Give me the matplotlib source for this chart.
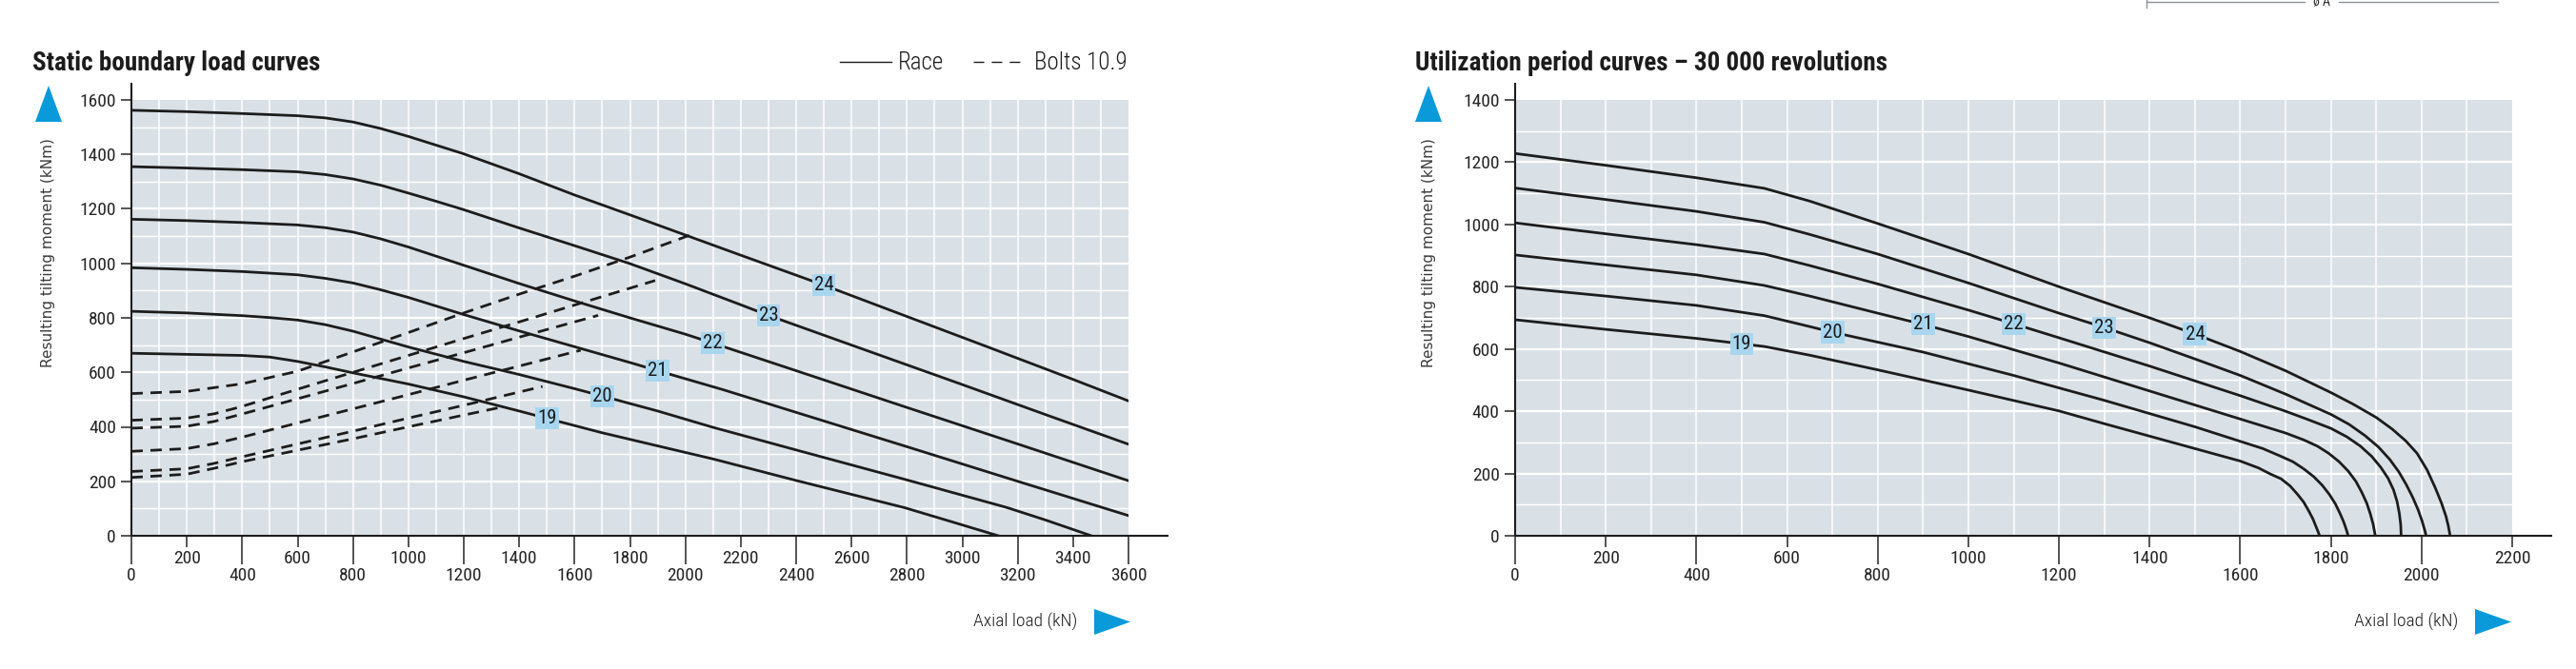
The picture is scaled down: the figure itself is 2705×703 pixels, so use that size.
import numpy as np
import matplotlib
matplotlib.use('Agg')
import matplotlib.pyplot as plt
from matplotlib import font_manager as fm
from matplotlib.lines import Line2D
from matplotlib.patches import Polygon
from matplotlib.ticker import NullLocator, FixedLocator, FuncFormatter

# ---------------- DATA ----------------
# Static boundary load curves: Race (solid), curve ids 19..24
static_ids = ['19', '20', '21', '22', '23', '24']
static_label_x = [1500, 1700, 1900, 2100, 2300, 2500]

r19_x = [0, 200, 400, 500, 600, 700, 800, 1000, 1200, 1400, 1500, 1700, 1933, 2100, 2400, 2792, 2950, 3130]
r19_y = [670, 666, 662, 656, 640, 620, 598, 557, 510, 458, 431, 378, 322, 282, 203, 103, 55, 0]
r20_x = [0, 200, 400, 500, 600, 700, 800, 900, 1000, 1200, 1400, 1600, 1700, 1900, 2100, 2400, 2800, 3160, 3300, 3466]
r20_y = [824, 818, 808, 801, 792, 775, 751, 722, 693, 640, 592, 540, 513, 458, 398, 315, 205, 104, 58, 0]
r21_x = [0, 200, 400, 600, 700, 800, 900, 1000, 1200, 1400, 1600, 1800, 1900, 2137, 2400, 2800, 3200, 3600]
r21_y = [984, 978, 970, 958, 945, 928, 903, 875, 812, 752, 694, 636, 606, 536, 453, 327, 200, 74]
r22_x = [0, 200, 400, 600, 700, 800, 900, 1000, 1200, 1400, 1600, 1800, 2000, 2100, 2400, 2800, 3200, 3600]
r22_y = [1162, 1157, 1150, 1141, 1131, 1115, 1090, 1060, 993, 926, 862, 800, 740, 707, 606, 471, 337, 202]
r23_x = [0, 200, 400, 600, 700, 800, 900, 1000, 1100, 1200, 1400, 1600, 1800, 2000, 2200, 2300, 2600, 3000, 3300, 3600]
r23_y = [1355, 1350, 1344, 1336, 1326, 1310, 1287, 1258, 1228, 1197, 1130, 1065, 999, 925, 848, 809, 700, 555, 445, 336]
r24_x = [0, 200, 400, 600, 700, 800, 900, 1000, 1200, 1400, 1600, 1800, 2000, 2200, 2500, 2800, 3100, 3400, 3600]
r24_y = [1562, 1557, 1550, 1542, 1534, 1519, 1495, 1466, 1402, 1329, 1251, 1178, 1104, 1030, 920, 805, 690, 574, 495]

# Bolts 10.9 (dashed)
b1_x = [0, 200, 400, 600, 800, 1000, 1200, 1400, 1600, 1800, 2023]
b1_y = [522, 530, 558, 604, 675, 746, 818, 887, 953, 1023, 1106]
b2_x = [0, 200, 300, 400, 600, 800, 1000, 1200, 1400, 1600, 1891]
b2_y = [424, 432, 448, 475, 538, 600, 662, 724, 785, 847, 937]
b3_x = [0, 200, 300, 400, 600, 800, 1000, 1200, 1400, 1685]
b3_y = [395, 402, 420, 447, 503, 559, 616, 672, 729, 809]
b4_x = [0, 200, 300, 400, 600, 800, 1000, 1200, 1400, 1622]
b4_y = [310, 320, 338, 362, 414, 466, 518, 571, 623, 681]
b5_x = [0, 200, 300, 400, 600, 800, 1000, 1200, 1484]
b5_y = [236, 246, 266, 290, 337, 384, 432, 479, 548]
b6_x = [0, 200, 300, 400, 600, 800, 1000, 1200, 1335]
b6_y = [214, 226, 248, 272, 314, 356, 400, 443, 472]

# Utilization period curves - 30 000 revolutions
util_ids = ['19', '20', '21', '22', '23', '24']
util_label_x = [500, 700, 900, 1100, 1300, 1500]

u19_x = [0, 200, 400, 550, 650, 800, 1000, 1200, 1300, 1400, 1500, 1600, 1640, 1667, 1690,
         1710, 1727, 1740, 1751, 1760, 1767, 1772, 1775]
u19_y = [694, 663, 634, 608, 580, 533, 468, 401, 360, 320, 280, 240, 218, 198, 183,
         160, 132, 108, 80, 55, 30, 12, 0]
u20_x = [0, 200, 400, 550, 650, 700, 900, 1100, 1300, 1500, 1650, 1690, 1716, 1740, 1762,
         1781, 1797, 1810, 1820, 1828, 1834, 1838]
u20_y = [798, 770, 740, 707, 672, 654, 590, 515, 435, 350, 280, 255, 238, 215, 190,
         162, 132, 102, 72, 45, 20, 0]
u21_x = [0, 200, 400, 550, 650, 800, 900, 1000, 1200, 1400, 1600, 1700, 1740, 1770, 1795,
         1818, 1838, 1855, 1868, 1879, 1887, 1893, 1896, 1898]
u21_y = [902, 870, 838, 804, 770, 715, 679, 640, 555, 465, 375, 330, 308, 288, 265,
         238, 208, 175, 140, 105, 70, 38, 15, 0]
u22_x = [0, 200, 400, 550, 650, 800, 1000, 1100, 1200, 1400, 1600, 1700, 1750, 1800, 1835,
         1865, 1890, 1910, 1926, 1938, 1946, 1951, 1954, 1955]
u22_y = [1005, 970, 935, 905, 868, 809, 725, 681, 636, 545, 450, 400, 373, 345, 318,
         288, 255, 220, 185, 148, 110, 72, 36, 0]
u23_x = [0, 200, 400, 550, 650, 800, 1000, 1200, 1300, 1400, 1500, 1600, 1700, 1800, 1840,
         1875, 1905, 1930, 1950, 1966, 1980, 1992, 2001, 2007, 2010]
u23_y = [1117, 1080, 1042, 1007, 968, 905, 812, 715, 669, 620, 568, 515, 455, 390, 358,
         322, 285, 245, 205, 165, 125, 85, 48, 18, 0]
u24_x = [0, 200, 400, 550, 650, 800, 1000, 1200, 1400, 1500, 1600, 1700, 1800, 1850, 1900,
         1935, 1965, 1990, 2012, 2030, 2044, 2054, 2059, 2063]
u24_y = [1228, 1190, 1150, 1116, 1075, 1003, 905, 800, 700, 648, 592, 530, 460, 422, 380,
         343, 305, 265, 212, 155, 105, 62, 32, 0]

# ---------------- FONTS ----------------
names = {f.name for f in fm.fontManager.ttflist}
COND = None
for c in ['Roboto Condensed', 'Barlow Condensed', 'Liberation Sans Narrow',
          'Archivo Narrow', 'DejaVu Sans Condensed']:
    if c in names:
        COND = c
        break
if COND is None:
    COND = 'Roboto'
plt.rcParams['font.family'] = [COND, 'DejaVu Sans']

# ---------------- FIGURE ----------------
W, H = 2705, 703
fig = plt.figure(figsize=(W / 100, H / 100), dpi=100)
fig.patch.set_facecolor('white')


def fx(px):
    return px / W


def fy(py):
    return 1 - py / H


INK = '#1c1c1c'
TICK = '#262626'
BG = '#dae1e6'
BOX = '#a9d6ef'
BLUE = '#0a9ad9'
LIGHT = 'light'

ax1 = fig.add_axes([fx(138), fy(563), 1047 / W, 458 / H])
ax2 = fig.add_axes([fx(1591), fy(563), 1047 / W, 458 / H])


def style_axes(ax, xmax, ymax):
    ax.set_xlim(0, xmax)
    ax.set_ylim(0, ymax)
    ax.set_facecolor(BG)
    for s in ax.spines.values():
        s.set_visible(False)
    for gx in np.arange(100, xmax, 100):
        ax.axvline(gx, color='white', lw=1.1, zorder=0.6)
    for gy in np.arange(100, ymax, 100):
        ax.axhline(gy, color='white', lw=1.6 if gy % 200 == 0 else 1.0, zorder=0.6)
    ax.xaxis.set_major_locator(FixedLocator(np.arange(0, xmax + 1, 400)))
    ax.xaxis.set_minor_locator(FixedLocator(np.arange(200, xmax + 1, 400)))
    fmt = FuncFormatter(lambda v, p: f'{int(round(v))}')
    ax.xaxis.set_major_formatter(fmt)
    ax.xaxis.set_minor_formatter(fmt)
    ax.yaxis.set_major_locator(FixedLocator(np.arange(0, ymax + 1, 200)))
    ax.yaxis.set_minor_locator(NullLocator())
    ax.yaxis.set_major_formatter(fmt)
    ax.tick_params(axis='x', which='major', length=21.6, width=1.1, pad=2.5,
                   direction='out', labelsize=14, colors=TICK)
    ax.tick_params(axis='x', which='minor', length=8.6, width=1.1, pad=2.5,
                   direction='out', labelsize=14, colors=TICK)
    ax.tick_params(axis='y', which='major', length=7.7, width=1.1, pad=4,
                   direction='out', labelsize=14, colors=TICK)
    ax.plot([0, 0], [0, 1.04], transform=ax.transAxes, color=INK, lw=1.5,
            clip_on=False, solid_capstyle='butt', zorder=5)
    ax.plot([0, 1.04], [0, 0], transform=ax.transAxes, color=INK, lw=1.5,
            clip_on=False, solid_capstyle='butt', zorder=5)


style_axes(ax1, 3600, 1600)
style_axes(ax2, 2200, 1400)


def draw_labels(ax, ids, lxs, curves):
    for lid, lx, (cx, cy) in zip(ids, lxs, curves):
        ly = np.interp(lx, cx, cy)
        ax.text(lx, ly, lid, ha='center', va='center', fontsize=15, color=INK,
                zorder=6, bbox=dict(boxstyle='square,pad=0.1', fc=BOX, ec='none'))


race = [(r19_x, r19_y), (r20_x, r20_y), (r21_x, r21_y),
        (r22_x, r22_y), (r23_x, r23_y), (r24_x, r24_y)]
bolts = [(b1_x, b1_y), (b2_x, b2_y), (b3_x, b3_y),
         (b4_x, b4_y), (b5_x, b5_y), (b6_x, b6_y)]
util = [(u19_x, u19_y), (u20_x, u20_y), (u21_x, u21_y),
        (u22_x, u22_y), (u23_x, u23_y), (u24_x, u24_y)]

for cx, cy in race:
    ax1.plot(cx, cy, color=INK, lw=2.0, zorder=3, solid_joinstyle='round')
for cx, cy in bolts:
    ax1.plot(cx, cy, color=INK, lw=2.0, zorder=3, dashes=(4.3, 2.9))
draw_labels(ax1, static_ids, static_label_x, race)

for cx, cy in util:
    ax2.plot(cx, cy, color=INK, lw=2.0, zorder=3, solid_joinstyle='round')
draw_labels(ax2, util_ids, util_label_x, util)

# ---------------- TITLES / LEGEND / AXIS TEXT ----------------
fig.text(fx(34), fy(74), 'Static boundary load curves', fontsize=19.5,
         fontweight='bold', color=INK, ha='left', va='baseline')
fig.text(fx(1486), fy(74), 'Utilization period curves \u2013 30 000 revolutions',
         fontsize=19.5, fontweight='bold', color=INK, ha='left', va='baseline')

fig.add_artist(Line2D([fx(882), fx(936)], [fy(65), fy(65)], color=INK, lw=1.0))
fig.text(fx(943), fy(73), 'Race', fontsize=18, fontweight=LIGHT, color=INK,
         ha='left', va='baseline')
fig.add_artist(Line2D([fx(1022), fx(1071)], [fy(65), fy(65)], color=INK, lw=1.0,
                      dashes=(8, 5.6)))
fig.text(fx(1086), fy(73), 'Bolts 10.9', fontsize=18, fontweight=LIGHT, color=INK,
         ha='left', va='baseline')

for (lx, ax_right) in [(51, 1131), (1500, 2581)]:
    fig.text(fx(lx), fy(266), 'Resulting tilting moment (kNm)', rotation=90,
             fontsize=11, family='DejaVu Sans', color='#3a3a3a', ha='center', va='center')
    fig.text(fx(ax_right), fy(653), 'Axial load (kN)', fontsize=14, fontweight=LIGHT,
             color=INK, ha='right', va='center')

# blue arrows
for cx in (51, 1500):
    fig.add_artist(Polygon([[fx(cx - 14), fy(128)], [fx(cx + 14), fy(128)], [fx(cx), fy(90)]],
                           closed=True, fc=BLUE, ec='none', transform=fig.transFigure))
for tip in (1187, 2637):
    fig.add_artist(Polygon([[fx(tip - 38), fy(640)], [fx(tip - 38), fy(667)], [fx(tip), fy(653.5)]],
                           closed=True, fc=BLUE, ec='none', transform=fig.transFigure))

# cropped dimension mark at top right
fig.add_artist(Line2D([fx(2254), fx(2420)], [fy(2), fy(2)], color='#8a9299', lw=1.0))
fig.add_artist(Line2D([fx(2456), fx(2623)], [fy(2), fy(2)], color='#8a9299', lw=1.0))
fig.add_artist(Line2D([fx(2254), fx(2254)], [fy(0), fy(8)], color='#8a9299', lw=1.0))
fig.text(fx(2438), fy(2), '\u00f8 A', fontsize=10, color='#333333', ha='center', va='center')

fig.savefig('out.png', dpi=100, facecolor='white')
